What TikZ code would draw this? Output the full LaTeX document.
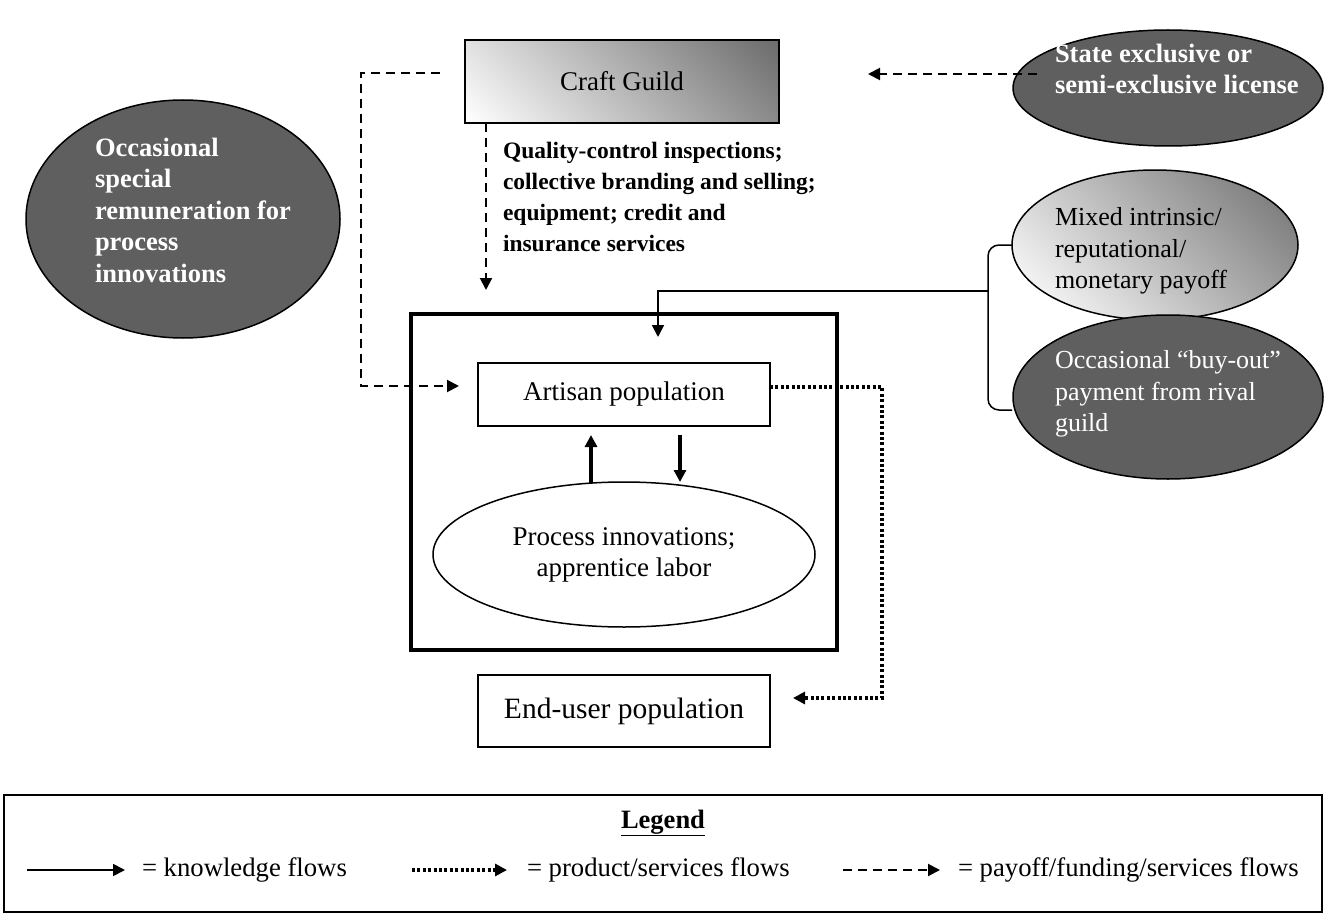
\documentclass[tikz,border=0pt]{standalone}
\usepackage{fontspec}
\setmainfont{Liberation Serif}
\usetikzlibrary{arrows.meta,shapes.geometric,calc}
\definecolor{darkfill}{HTML}{5F5F5F}
\definecolor{shadegray}{HTML}{6C6C6C}
\definecolor{shadegrayb}{HTML}{747474}
% diagonal grey-to-white fills (white at lower left, grey at upper right)
\pgfdeclareverticalshading{guildshade}{100bp}{color(0bp)=(white); color(15bp)=(white); color(85bp)=(shadegray); color(100bp)=(shadegray)}
\pgfdeclareverticalshading{payoffshade}{100bp}{color(0bp)=(white); color(18bp)=(white); color(82bp)=(shadegrayb); color(100bp)=(shadegrayb)}
\begin{document}
\begin{tikzpicture}[x=1pt,y=-1pt,
  every node/.style={inner sep=0pt, outer sep=0pt},
  tipa/.style={-{Triangle[length=12pt,width=12pt]}},
  payflow/.style={tipa, line width=2pt, dash pattern=on 9pt off 6pt},
  prodflow/.style={tipa, line width=3.2pt, dash pattern=on 3pt off 2.4pt},
  knowflow/.style={tipa, line width=1.8pt},
  boxnode/.style={draw, line width=1.6pt, minimum width=292pt},
  darkell/.style={ellipse, draw, line width=1.5pt, fill=darkfill},
  mainfont/.style={font=\fontsize{27}{31}\selectfont},
  boldwhite/.style={align=left, text=white, font=\fontsize{26.5}{31.5}\selectfont\bfseries},
  plainwhite/.style={align=left, text=white, font=\fontsize{26}{31.5}\selectfont},
  legfont/.style={font=\fontsize{26.7}{31}\selectfont}]
\useasboundingbox (0,0) rectangle (1325,915);

% ---- guild and outside actors ----
\node[draw, line width=1.8pt, minimum width=314pt, minimum height=83pt,
      shading=guildshade, shading angle=-45, mainfont] (guild) at (622,81.5) {Craft Guild};

\node[darkell, minimum width=310pt, minimum height=116pt] (state) at (1168,88) {};
\node[boldwhite, anchor=west] (statetxt) at (1055,69) {State exclusive or\\semi-exclusive license};

\node[darkell, minimum width=314pt, minimum height=238pt] (occ) at (183,219) {};
\node[boldwhite, anchor=west] (occtxt) at (95,210)
  {Occasional\\special\\remuneration for\\process\\innovations};

\node[anchor=west, align=left, font=\fontsize{23.5}{31}\selectfont\bfseries] (services) at (503,197)
  {Quality-control inspections;\\collective branding and selling;\\equipment; credit and\\insurance services};

\node[ellipse, draw, line width=1.5pt, minimum width=286pt, minimum height=150pt,
      shading=payoffshade, shading angle=-45] (mixed) at (1155,245) {};
\node[anchor=west, align=left, font=\fontsize{26}{31.5}\selectfont] (mixedtxt) at (1055,251)
  {Mixed intrinsic/\\reputational/\\monetary payoff};

\node[darkell, minimum width=310pt, minimum height=164pt] (buyout) at (1168,397) {};
\node[plainwhite, anchor=west] (buytxt) at (1055,394)
  {Occasional ``buy-out''\\payment from rival\\guild};

% ---- the artisan unit ----
\node[draw, line width=4pt, minimum width=426pt, minimum height=336pt] (unit) at (624,482) {};
\node[boxnode, minimum height=63pt, mainfont] (artisan) at (624,394.5) {Artisan population};
\node[ellipse, draw, line width=1.5pt, minimum width=382pt, minimum height=145pt,
      align=center, mainfont] (process) at (624,554.5) {Process innovations;\\apprentice labor};
\node[boxnode, minimum height=72pt, font=\fontsize{29.5}{34}\selectfont] (enduser) at (624,711) {End-user population};

% ---- connector end points ----
\coordinate (gstart) at (440,73);
\coordinate (gend) at (459,386);
\coordinate (gdown) at (486,123);
\coordinate (gdownend) at (486,290);
\coordinate (sstart) at (1037,74);
\coordinate (send) at (868,74);
\coordinate (bracemid) at (988,291);
\coordinate (payend) at (658,337);
\coordinate (upstart) at (591,483);
\coordinate (upend) at (591,435);
\coordinate (dnstart) at (680,435);
\coordinate (dnend) at (680,482);
\coordinate (pstart) at (770,387);
\coordinate (pend) at (793,698);
\coordinate (bracebot) at (1012,410);

% ---- connectors ----
\draw[payflow] (gstart) -- (361,73) -- (361,386) -- (gend);
\draw[payflow] (gdown) -- (gdownend);
\draw[payflow] (sstart) -- (send);
\draw[line width=1.5pt, rounded corners=11pt] (mixed.west) -- (988,245) -- (988,410) -- (bracebot);
\draw[knowflow] (bracemid) -| (payend);
\draw[tipa, line width=3.5pt] (upstart) -- (upend);
\draw[tipa, line width=3.5pt] (dnstart) -- (dnend);
\draw[prodflow] (pstart) -- (882,387) -- (882,698) -- (pend);

% ---- legend ----
\node[draw, line width=2pt, minimum width=1318pt, minimum height=117pt] (legend) at (663,853.5) {};
\node[font=\fontsize{26.5}{31}\selectfont\bfseries] (legtitle) at (663,823) {\underline{Legend}};
\coordinate (k1) at (27,870);   \coordinate (k2) at (125,870);
\coordinate (p1) at (412,870);  \coordinate (p2) at (507,870);
\coordinate (f1) at (843,870);  \coordinate (f2) at (940,870);
\draw[knowflow] (k1) -- (k2);
\draw[prodflow] (p1) -- (p2);
\draw[payflow] (f1) -- (f2);
\node[legfont, anchor=west] (ktxt) at (142,870) {= knowledge flows};
\node[legfont, anchor=west] (ptxt) at (527,870) {= product/services flows};
\node[legfont, anchor=west] (ftxt) at (958,870) {= payoff/funding/services flows};
\end{tikzpicture}
\end{document}
